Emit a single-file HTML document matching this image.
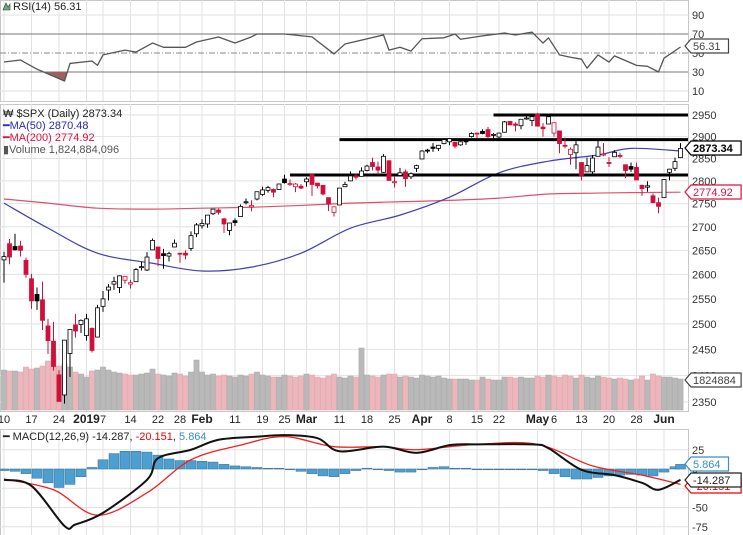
<!DOCTYPE html>
<html><head><meta charset="utf-8"><style>
html,body{margin:0;padding:0;background:#fff}
svg{display:block;font-family:"Liberation Sans",sans-serif}
</style></head><body>
<svg id="chart" width="743" height="535" viewBox="0 0 743 535" xmlns="http://www.w3.org/2000/svg">
<defs>
<clipPath id="cpRsi"><rect x="0" y="0" width="688" height="101"/></clipPath>
<clipPath id="cpMain"><rect x="0" y="104" width="688" height="307"/></clipPath>
<clipPath id="cpMacd"><rect x="0" y="429" width="688" height="106"/></clipPath>
<clipPath id="cpOver"><rect x="0" y="0" width="688" height="34"/></clipPath>
<clipPath id="cpUnder"><rect x="0" y="72" width="688" height="29"/></clipPath>
</defs>
<g id="grid"></g>
<g id="vol" clip-path="url(#cpMain)"></g>
<g id="main" clip-path="url(#cpMain)"></g>
<g id="rsi" clip-path="url(#cpRsi)"></g>
<g id="macd" clip-path="url(#cpMacd)"></g>
<g id="axes"></g>
<g>
<path d="M3 10 L6 3 L8 7 L10 4 L10 10 Z" fill="#6a8" stroke="#333" stroke-width="0.6"/>
<text x="13" y="10" font-size="11" fill="#222">RSI(14) 56.31</text>
</g>
<g font-size="11">
<text x="3" y="117" fill="#222">₩ $SPX (Daily) 2873.34</text>
<text x="3" y="129" fill="#2b2bb0">━MA(50) 2870.48</text>
<text x="3" y="141" fill="#d9143c">━MA(200) 2774.92</text>
<text x="3" y="153" fill="#555">▮Volume 1,824,884,096</text>
</g>
<g font-size="11">
<text x="3" y="440"><tspan fill="#222">━ MACD(12,26,9) -14.287, </tspan><tspan fill="#e00">-20.151</tspan><tspan fill="#222">, </tspan><tspan fill="#3b8fc4">5.864</tspan></text>
</g>
</svg>
<script>
const opens=[2630,2664,2658,2659,2629,2591,2559,2548,2496,2466,2401,2363,2442,2498,2499,
2477,2491,2474,2535,2568,2580,2573,2588,2580,2585,2614,2609,2651,2657,2643,2638,2657,2644,2644,2654,2685,
2702,2706,2728,2736,2717,2692,2713,2722,2752,2743,2760,2770,2779,2781,2781,2804,2793,2787,2788,
2798,2814,2795,2790,2763,2731,2747,2787,2800,2811,2810,2823,2841,2831,2819,2845,2797,2812,2820,2809,2828,
2849,2869,2876,2873,2884,2888,2887,2881,2891,2900,2908,2912,2916,2904,2899,2910,2935,2929,2925,2941,2937,
2952,2922,2929,2908,2913,2880,2859,2863,2841,2820,2820,2855,2858,2841,2854,2857,2836,2832,2830,2790,2786,2767,
2752,2763,2819,2828,2852];
const highs=[2647,2674,2685,2670,2635,2601,2573,2585,2510,2504,2410,2467,2489,2520,2509,
2520,2493,2538,2566,2580,2595,2598,2597,2589,2613,2626,2646,2675,2657,2653,2647,2673,2644,2650,2690,2708,
2716,2724,2738,2739,2719,2708,2718,2748,2761,2757,2776,2787,2789,2783,2794,2814,2803,2795,2793,
2808,2816,2795,2790,2763,2744,2784,2798,2821,2816,2830,2836,2852,2843,2860,2846,2809,2829,2825,2819,2836,
2869,2872,2885,2881,2893,2895,2887,2889,2893,2910,2909,2917,2922,2908,2909,2936,2936,2933,2940,2949,2948,
2955,2931,2947,2932,2914,2898,2875,2891,2841,2852,2858,2892,2885,2853,2869,2863,2836,2841,2841,2792,2799,2772,
2763,2804,2827,2852,2885];
const lows=[2583,2621,2650,2637,2593,2530,2528,2488,2441,2409,2351,2347,2397,2473,2482,
2467,2444,2474,2524,2547,2568,2562,2581,2571,2585,2608,2607,2652,2617,2612,2627,2657,2624,2631,2649,2678,
2696,2698,2725,2726,2687,2682,2702,2722,2748,2733,2757,2767,2774,2764,2781,2794,2789,2775,2782,
2787,2767,2783,2768,2734,2722,2747,2786,2799,2803,2810,2821,2823,2814,2818,2800,2785,2810,2787,2804,2820,
2849,2862,2865,2867,2882,2880,2873,2879,2881,2898,2897,2905,2896,2892,2896,2909,2926,2912,2917,2939,2924,
2924,2900,2929,2900,2862,2873,2836,2826,2801,2820,2815,2855,2855,2831,2854,2851,2806,2820,2802,2767,2776,2751,
2729,2763,2801,2822,2852];
const closes=[2637,2636,2651,2650,2600,2546,2546,2507,2467,2417,2351,2468,2489,2486,2507,
2510,2448,2532,2550,2574,2585,2597,2596,2583,2610,2616,2636,2671,2633,2639,2643,2665,2644,2640,2681,2704,
2707,2725,2738,2731,2706,2708,2709,2744,2754,2746,2776,2780,2785,2775,2793,2796,2794,2793,2784,
2804,2792,2789,2771,2749,2743,2784,2792,2811,2808,2822,2833,2832,2824,2855,2801,2798,2818,2805,2816,2834,
2867,2867,2873,2880,2893,2895,2878,2888,2888,2907,2906,2907,2900,2905,2908,2934,2927,2926,2940,2943,2946,
2924,2918,2946,2932,2884,2880,2871,2881,2812,2834,2851,2876,2860,2840,2864,2856,2823,2826,2802,2783,2789,2752,
2744,2803,2826,2843,2873];
const volumes=[4.0,3.9,3.9,3.8,4.3,4.1,4.2,4.4,4.9,5.5,4.4,4.6,4.3,3.8,3.6,
3.3,3.9,4.0,4.3,4.0,3.8,3.7,3.6,3.5,3.5,3.6,3.7,4.1,3.6,3.5,3.4,3.7,3.6,3.4,3.8,5.0,
3.8,3.5,3.6,3.4,3.5,3.4,3.3,3.5,3.4,3.6,3.8,3.5,3.4,3.3,3.3,3.5,3.4,3.3,3.4,
3.6,3.5,3.3,3.2,3.4,3.6,3.3,3.2,3.4,3.3,6.2,3.5,3.4,3.3,3.5,3.6,3.6,3.3,3.4,3.3,3.2,
3.5,3.4,3.3,3.4,3.2,3.1,3.1,3.1,3.1,3.0,3.0,3.3,3.1,3.0,3.0,3.3,3.3,3.2,3.3,3.2,3.2,
3.4,3.3,3.5,3.4,3.3,3.5,3.4,3.2,3.5,3.3,3.2,3.4,3.3,3.2,3.1,3.2,3.1,3.0,3.1,3.4,3.0,3.6,
3.4,3.3,3.3,3.2,3.1];
const maDays=[0,8,17,27,36,45,54,63,72,81,90,99,108,114,123];
const ma50=[2751,2697,2644,2623,2607,2615,2644,2697,2725,2764,2818,2844,2858,2873,2867];
const ma200=[2760,2751,2740,2738,2740,2742,2746,2751,2754,2757,2762,2771,2773,2774,2775];
const rsiDays=[0,3,6,11,12,16,17,18,22,24,27,29,33,35,39,42,45,46,51,56,60,62,69,70,72,74,76,80,82,83,87,91,93,96,98,99,101,103,105,106,108,110,111,115,117,119,120,123];
const rsiVals=[40.5,42.6,33,20.5,39,41.6,37,48,53,51,60.5,56,56,61.6,66.8,60.5,67,70,70,67,49,59.5,69,53,56,52,65,66,70,64.5,68,71,69,72,60.5,66,48,45.5,43.5,34,48,40.5,47,37,36,30,44.5,56.3];
const macdDays=[0,5,11,13,18,26,28,34,39,46,51,57,61,69,75,81,86,96,99,105,111,116,119,123];
const macdVals=[-14,-22,-74,-72,-57,-14,14,25,38,42,44,40,23,29,21,31,32,32,27,-1,-8,-18,-27,-14];
const sigDays=[0,9,17,26,34,43,51,60,69,75,86,97,107,116,123];
const sigVals=[-13,-27,-60,-31,12,31,42,29,29,25,32,32,4,-8,-20];
const histDays=[0,2,4,6,8,10,12,14,16,18,20,22,24,26,28,30,32,34,36,38,40,42,44,46,48,50,52,54,56,58,60,62,64,66,68,70,72,74,76,78,80,82,84,86,88,90,92,94,96,98,100,102,104,106,108,110,112,114,116,118,120,122,123];
const histVals=[-2,-3,-6,-12,-18,-24,-20,-10,2,12,20,23,23,22,18,13,11,11,10,9,6,4,3,2,1,1,0,-3,-6,-9,-10,-6,-2,1,0,-2,-4,-4,0,2,3,1,1,0,0,0,0,0,0,-2,-6,-10,-13,-13,-11,-9,-8,-7,-8,-9,-4,3,6];
const priceTicks=[2950,2900,2850,2800,2750,2700,2650,2600,2550,2500,2450,2400,2350];
const rsiTicks=[90,70,50,30,10];
const macdTicks=[25,0,-25,-50,-75];
const xLabels=["10","17","24","2019","7","14","22","28","Feb","11","19","25","Mar","11","18","25","Apr","8","15","22","May","6","13","20","28","Jun"];
const xLabelDays=[0,5,10,15,18,23,28,32,36,42,47,51,55,61,66,71,76,81,86,90,97,100,105,110,115,120];
const xLabelBold=[0,0,0,1,0,0,0,0,1,0,0,0,1,0,0,0,1,0,0,0,1,0,0,0,0,1];
const levelPrices=[2950,2893,2813];
const levelStartDays=[89,61,52];

const NS="http://www.w3.org/2000/svg";
const xOf=i=>4+i*5.5;
const yP=v=>115+(Math.log(2950)-Math.log(v))*1262;
const yR=v=>34+(70-v)*0.95;
const yM=v=>469-v*0.77;
const yV=v=>410-v*10;
function mk(tag,attrs,parent){const e=document.createElementNS(NS,tag);for(const k in attrs)e.setAttribute(k,attrs[k]);parent.appendChild(e);return e;}
const G=id=>document.getElementById(id);
const grid=G('grid'),vol=G('vol'),main=G('main'),rsi=G('rsi'),macd=G('macd'),axes=G('axes');

[[0,0,688,101],[0,104,688,307],[0,429,688,106]].forEach(r=>{
  const e=mk('rect',{x:r[0]+0.5,y:r[1]+0.5,width:r[2],height:r[3],fill:'#fff',stroke:'#c8c8c8'},grid);
  
  
});
xLabelDays.forEach(d=>{
  [[0,101],[104,411],[429,535]].forEach(s=>{
    const e=mk('line',{x1:xOf(d),x2:xOf(d),y1:s[0],y2:s[1],stroke:'#e2e2e2'},grid);
    
    
  });
});
priceTicks.forEach(p=>{
  const e=mk('line',{x1:0,x2:688,y1:yP(p),y2:yP(p),stroke:'#e2e2e2'},grid);
  
  
  const t=mk('text',{x:692,y:yP(p)+4,'font-size':11,fill:'#333'},axes);t.textContent=p;
  
  
});
rsiTicks.forEach(v=>{
  const st=(v===70||v===30)?'#777':(v===50?'#888':'#e2e2e2');
  const e=mk('line',{x1:0,x2:688,y1:yR(v),y2:yR(v),stroke:st},grid);
  if(v===50)e.setAttribute('stroke-dasharray','6,2,1,2');
  
  
  const t=mk('text',{x:692,y:yR(v)+4,'font-size':11,fill:'#333'},axes);t.textContent=v;
  
  
});
macdTicks.forEach(v=>{
  const e=mk('line',{x1:0,x2:688,y1:yM(v),y2:yM(v),stroke:'#e2e2e2'},grid);
  
  
  const t=mk('text',{x:692,y:yM(v)+4,'font-size':11,fill:'#333'},axes);t.textContent=v;
  
  
});
xLabels.forEach((l,i)=>{
  const t=mk('text',{x:xOf(xLabelDays[i]),y:423,'font-size':xLabelBold[i]?12:11,'font-weight':xLabelBold[i]?'bold':'normal','text-anchor':'middle',fill:'#222'},axes);
  t.textContent=l;
  
  
});

volumes.forEach((v,i)=>{
  const down=i>0&&closes[i]<closes[i-1];
  const e=mk('rect',{x:xOf(i)-2.6,y:yV(v),width:5.2,height:410-yV(v),fill:down?'#ebb7bd':'#b9b9b9',stroke:down?'#e3a0a8':'#a8a8a8','stroke-width':0.5},vol);
  
  
});
function poly(days,vals,yf,color,w,parent,name){
  const pts=days.map((d,i)=>xOf(d)+','+yf(vals[i])).join(' ');
  const e=mk('polyline',{points:pts,fill:'none',stroke:color,'stroke-width':w,'stroke-linejoin':'round'},parent);
  
  
  return e;
}
function smooth(days,vals,yf,color,w,parent,name){
  const P=days.map((d,i)=>[xOf(d),yf(vals[i])]);
  let d='M'+P[0][0]+' '+P[0][1];
  for(let i=0;i<P.length-1;i++){
    const p0=P[Math.max(0,i-1)],p1=P[i],p2=P[i+1],p3=P[Math.min(P.length-1,i+2)];
    const c1x=p1[0]+(p2[0]-p0[0])/6,c1y=p1[1]+(p2[1]-p0[1])/6;
    const c2x=p2[0]-(p3[0]-p1[0])/6,c2y=p2[1]-(p3[1]-p1[1])/6;
    d+=` C${c1x} ${c1y} ${c2x} ${c2y} ${p2[0]} ${p2[1]}`;
  }
  const e=mk('path',{d:d,fill:'none',stroke:color,'stroke-width':w},parent);
  
  
  return e;
}
smooth(maDays,ma200,yP,'#e0506a',1.2,main,'ma200-line');
smooth(maDays,ma50,yP,'#4040b0',1.2,main,'ma50-line');
levelPrices.forEach((p,i)=>{
  const e=mk('line',{x1:xOf(levelStartDays[i]),x2:688,y1:yP(p),y2:yP(p),stroke:'#000','stroke-width':3},main);
  
  
});
closes.forEach((c,i)=>{
  const o=opens[i],h=highs[i],l=lows[i];
  const down=i>0&&c<closes[i-1];
  const col=down?'#d0103a':'#000';
  const x=xOf(i);
  const w=mk('line',{x1:x,x2:x,y1:yP(h),y2:yP(l),stroke:col,'stroke-width':1},main);
  
  
  const top=yP(Math.max(o,c)),bot=yP(Math.min(o,c));
  const b=mk('rect',{x:x-2,y:top,width:4,height:Math.max(1,bot-top),fill:c>o?'#fff':col,stroke:col,'stroke-width':0.8},main);
  
  
});
const rsiPts=rsiDays.map((d,i)=>[xOf(d),yR(rsiVals[i])]);
const areaPts=(lvl)=>xOf(rsiDays[0])+','+yR(lvl)+' '+rsiPts.map(p=>p.join(',')).join(' ')+' '+xOf(rsiDays[rsiDays.length-1])+','+yR(lvl);
const ov=mk('polygon',{points:areaPts(70),fill:'#6a9a6a','clip-path':'url(#cpOver)'},rsi);


const un=mk('polygon',{points:areaPts(30),fill:'#a06060','clip-path':'url(#cpUnder)'},rsi);


poly(rsiDays,rsiVals,yR,'#555',1.3,rsi,'rsi-line');
histDays.forEach((d,i)=>{
  const v=histVals[i];const y0=yM(0),y1=yM(v);
  const e=mk('rect',{x:xOf(d)-5,y:Math.min(y0,y1),width:10,height:Math.max(0.8,Math.abs(y1-y0)),fill:'#4d9fcf',stroke:'#2f6f99','stroke-width':0.5},macd);
  
  
});
smooth(sigDays,sigVals,yM,'#f02020',1.3,macd,'macd-signal-line');
smooth(macdDays,macdVals,yM,'#111',2,macd,'macd-line');

function tag(y,txt,color,bold,name){
  const g=mk('g',{},axes);
  
  
  const w=txt.length*6.3+6;
  mk('path',{d:`M685 ${y} L691 ${y-7} L${691+w} ${y-7} L${691+w} ${y+7} L691 ${y+7} Z`,fill:'#fff',stroke:color,'stroke-width':1.2},g);
  const t=mk('text',{x:693,y:y+4,'font-size':11,'font-weight':bold?'bold':'normal',fill:bold?'#000':color},g);
  t.textContent=txt;
}
tag(46,'56.31','#444',false,'rsi-value-tag');
tag(192,'2774.92','#d9143c',false,'ma200-value-tag');
tag(380,'1824884','#444',false,'volume-value-tag');
tag(148,'2873.34','#000',true,'price-value-tag');
tag(486,'-20.151','#e00',false,'signal-value-tag');
tag(480,'-14.287','#222',false,'macd-value-tag');
tag(464,'5.864','#3b8fc4',false,'histogram-value-tag');
</script>
</body></html>
